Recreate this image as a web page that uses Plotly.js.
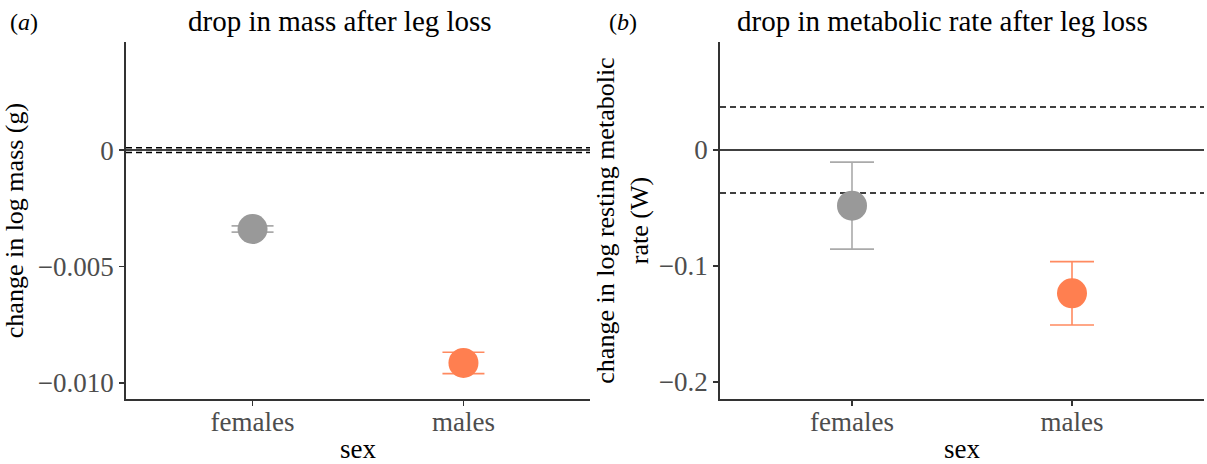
<!DOCTYPE html>
<html>
<head>
<meta charset="utf-8">
<script src="https://cdn.plot.ly/plotly-3.0.1.min.js"></script>
<style>html,body{margin:0;padding:0;background:#fff}#chart{width:1207px;height:464px}</style>
</head>
<body>
<div id="chart"></div>
<script>
// ---- data ----
const categories = ['females', 'males'];
const massMean = [-0.00339, -0.00914];
const massErr = [0.000135, 0.00046];
const metabMean = [-0.048, -0.1236];
const metabErr = [0.0375, 0.0273];
const massBand = [-0.0001, 0.0001];
const metabBand = [-0.037, 0.037];
const massTicks = [-0.010, -0.005, 0];
const massTickText = ['\u22120.010', '\u22120.005', '0'];
const metabTicks = [-0.2, -0.1, 0];
const metabTickText = ['\u22120.2', '\u22120.1', '0'];

// ---- style ----
const markerColors = ['#999999', '#FF7F50'];
const errColors = ['#AAAAAA', '#FF8A60'];
const W = 1207, H = 464;
const FONT = 'Liberation Serif, Times New Roman, serif';

const traces = [];
categories.forEach((c, i) => {
  traces.push({
    type: 'scatter', mode: 'markers', x: [c], y: [massMean[i]], xaxis: 'x', yaxis: 'y',
    marker: {color: markerColors[i], size: 30},
    error_y: {type: 'data', array: [massErr[i]], color: errColors[i], thickness: 1.6, width: 21},
    showlegend: false, hoverinfo: 'x+y'
  });
  traces.push({
    type: 'scatter', mode: 'markers', x: [c], y: [metabMean[i]], xaxis: 'x2', yaxis: 'y2',
    marker: {color: markerColors[i], size: 30},
    error_y: {type: 'data', array: [metabErr[i]], color: errColors[i], thickness: 1.6, width: 22},
    showlegend: false, hoverinfo: 'x+y'
  });
});

function px(x) { return x / W; }
function py(y) { return 1 - y / H; }

const axisCommon = {
  showgrid: false, zeroline: false, showline: true, linecolor: '#333333', linewidth: 1.8,
  ticks: 'outside', ticklen: 5, tickwidth: 1.5, tickcolor: '#333333',
  tickfont: {family: FONT, size: 27, color: '#4D4D4D'}, fixedrange: true
};

const shapes = [];
function hline(xref, yref, y, dash) {
  shapes.push({type: 'line', xref: xref + ' domain', yref: yref, x0: 0, x1: 1, y0: y, y1: y,
    line: {color: '#000000', width: 1.5, dash: dash}, layer: 'below'});
}
hline('x', 'y', 0, 'solid');
massBand.forEach(v => hline('x', 'y', v, '6px,4px'));
hline('x2', 'y2', 0, 'solid');
metabBand.forEach(v => hline('x2', 'y2', v, '6px,4px'));

const layout = {
  width: W, height: H, margin: {l: 0, r: 0, t: 0, b: 0},
  paper_bgcolor: '#ffffff', plot_bgcolor: '#ffffff',
  font: {family: FONT, color: '#000000'},
  showlegend: false,
  xaxis: Object.assign({}, axisCommon, {
    domain: [px(126), px(590)], type: 'category', range: [-0.6, 1.6], ticklabelstandoff: -7,
    title: {text: 'sex', font: {family: FONT, size: 27, color: '#000'}, standoff: 10}
  }),
  yaxis: Object.assign({}, axisCommon, {
    domain: [py(399), py(42)], range: [-0.01069, 0.00464],
    tickvals: massTicks, ticktext: massTickText,
    title: {text: 'change in log mass (g)', font: {family: FONT, size: 26, color: '#000'}, standoff: 8}
  }),
  xaxis2: Object.assign({}, axisCommon, {
    domain: [px(720), px(1204)], type: 'category', range: [-0.6, 1.6], anchor: 'y2', ticklabelstandoff: -7,
    title: {text: 'sex', font: {family: FONT, size: 27, color: '#000'}, standoff: 10}
  }),
  yaxis2: Object.assign({}, axisCommon, {
    domain: [py(399), py(42)], range: [-0.2147, 0.0931], anchor: 'x2',
    tickvals: metabTicks, ticktext: metabTickText,
    title: {text: 'change in log resting metabolic<br>rate (W)', font: {family: FONT, size: 26, color: '#000'}, standoff: 3}
  }),
  shapes: shapes,
  annotations: [
    {text: '(<i>a</i>)', xref: 'paper', yref: 'paper', x: px(8), y: py(22), xanchor: 'left', yanchor: 'middle',
     showarrow: false, font: {family: FONT, size: 24, color: '#000'}},
    {text: '(<i>b</i>)', xref: 'paper', yref: 'paper', x: px(607), y: py(22), xanchor: 'left', yanchor: 'middle',
     showarrow: false, font: {family: FONT, size: 24, color: '#000'}},
    {text: 'drop in mass after leg loss', xref: 'paper', yref: 'paper', x: px(340), y: py(21), xanchor: 'center', yanchor: 'middle',
     showarrow: false, font: {family: FONT, size: 29, color: '#000'}},
    {text: 'drop in metabolic rate after leg loss', xref: 'paper', yref: 'paper', x: px(942), y: py(21), xanchor: 'center', yanchor: 'middle',
     showarrow: false, font: {family: FONT, size: 29, color: '#000'}}
  ]
};

Plotly.newPlot('chart', traces, layout, {displayModeBar: false, staticPlot: true});
</script>
</body>
</html>
